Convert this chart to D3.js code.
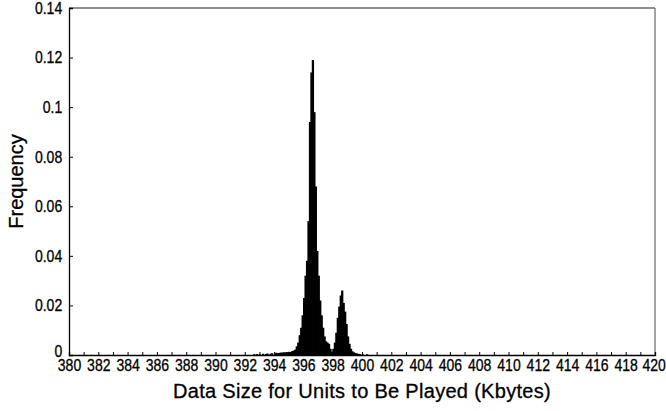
<!DOCTYPE html>
<html>
<head>
<meta charset="utf-8">
<script src="https://cdn.jsdelivr.net/npm/d3@7"></script>
<style>
  body { margin: 0; background: #fff; }
  text { font-family: "Liberation Sans", Arial, sans-serif; fill: #000; stroke: #000; stroke-width: 0.3px; }
</style>
</head>
<body>
<div id="chart"></div>
<script>
const width = 666;
const height = 411;
const margin = {top: 8, right: 11, bottom: 56, left: 69};

// lower edge of each 0.1 Kbyte bin (only non-empty bins listed)
const binEdges = [
  392.6, 392.8, 393.0, 393.2, 393.4, 393.5, 393.7, 393.8, 394.0, 394.1,
  394.2, 394.3, 394.4, 394.5, 394.6, 394.7, 394.8, 394.9, 395.0, 395.1,
  395.2, 395.3, 395.4, 395.5, 395.6, 395.7, 395.8, 395.9, 396.0, 396.1,
  396.2, 396.3, 396.4, 396.5, 396.6, 396.7, 396.8, 396.9, 397.0, 397.1,
  397.2, 397.3, 397.4, 397.5, 397.6, 397.7, 397.8, 397.9, 398.0, 398.1,
  398.2, 398.3, 398.4, 398.5, 398.6, 398.7, 398.8, 398.9, 399.0, 399.1,
  399.2, 399.3, 399.4, 399.5, 399.6, 399.7, 399.8, 400.0, 400.3
];
const frequency = [
  0.0003, 0.0004, 0.0003, 0.0005, 0.0004, 0.0006, 0.0005, 0.0007, 0.0006, 0.0009,
  0.0007, 0.0008, 0.0010, 0.0009, 0.0011, 0.0010, 0.0012, 0.0011, 0.0013, 0.0012,
  0.0016, 0.0018, 0.0022, 0.0035, 0.0050, 0.0080, 0.0110, 0.0160, 0.0230, 0.0320,
  0.0380, 0.0540, 0.0940, 0.1140, 0.1190, 0.0980, 0.0680, 0.0420, 0.0320, 0.0220,
  0.0160, 0.0110, 0.0075, 0.0055, 0.0050, 0.0045, 0.0025, 0.0013, 0.0025, 0.0050,
  0.0090, 0.0150, 0.0195, 0.0240, 0.0260, 0.0210, 0.0175, 0.0125, 0.0075, 0.0045,
  0.0025, 0.0015, 0.0011, 0.0008, 0.0006, 0.0005, 0.0004, 0.0003, 0.0003
];
const binWidth = 0.1;

const xLabelTicks = [380, 382, 384, 386, 388, 390, 392, 394, 396, 398, 400,
                     402, 404, 406, 408, 410, 412, 414, 416, 418, 420];
const yTicks = [0, 0.02, 0.04, 0.06, 0.08, 0.1, 0.12, 0.14];

const svg = d3.select("#chart").append("svg")
    .attr("width", width)
    .attr("height", height);

const x = d3.scaleLinear().domain([380, 420]).range([margin.left, width - margin.right]);
const y = d3.scaleLinear().domain([0, 0.14]).range([height - margin.bottom, margin.top]);

// frame: top and right
svg.append("line")
    .attr("x1", x(380)).attr("x2", x(420))
    .attr("y1", y(0.14)).attr("y2", y(0.14))
    .attr("stroke", "#222").attr("stroke-width", 1.2);
svg.append("line")
    .attr("x1", x(420)).attr("x2", x(420))
    .attr("y1", y(0.14)).attr("y2", y(0))
    .attr("stroke", "#666").attr("stroke-width", 1.2);

// bars (slight overlap so neighbouring bins merge like the original)
svg.append("g")
    .selectAll("rect")
    .data(binEdges)
    .enter().append("rect")
    .attr("x", d => x(d) - 0.4)
    .attr("width", d => x(d + binWidth) - x(d) + 0.8)
    .attr("y", (d, i) => y(frequency[i]))
    .attr("height", (d, i) => y(0) - y(frequency[i]))
    .attr("fill", "#000");

// tall narrow digits like the original's gothic font
const condense = "scale(0.85,1)";

// x axis: tick every 1, label every 2
const xAxis = svg.append("g")
    .attr("transform", `translate(0,${y(0)})`)
    .call(d3.axisBottom(x)
        .tickValues(d3.range(380, 421, 1))
        .tickSize(-3)
        .tickPadding(4)
        .tickFormat(d => xLabelTicks.includes(d) ? d : ""));
xAxis.select(".domain").attr("stroke", "#000").attr("stroke-width", 1.3);
xAxis.selectAll("text")
    .style("font-size", "16.5px")
    .attr("dx", d => d === 420 ? -1.5 : 0)
    .attr("transform", condense);

// y axis
const yAxis = svg.append("g")
    .attr("transform", `translate(${x(380)},0)`)
    .call(d3.axisLeft(y)
        .tickValues(yTicks)
        .tickSize(-4)
        .tickPadding(8)
        .tickFormat(d => +d.toFixed(2)));
yAxis.select(".domain").attr("stroke", "#000").attr("stroke-width", 1.3);
yAxis.selectAll("text")
    .style("font-size", "16.5px")
    .attr("dy", (d, i) => i === 0 ? "0.08em" : "0.32em")
    .attr("transform", condense);

svg.append("text")
    .attr("x", (x(380) + x(420)) / 2)
    .attr("y", 398)
    .attr("text-anchor", "middle")
    .style("font-size", "20px")
    .style("letter-spacing", "0.3px")
    .text("Data Size for Units to Be Played (Kbytes)");

svg.append("text")
    .attr("transform", `translate(23,${(y(0) + y(0.14)) / 2}) rotate(-90)`)
    .attr("text-anchor", "middle")
    .style("font-size", "20px")
    .text("Frequency");
</script>
</body>
</html>
